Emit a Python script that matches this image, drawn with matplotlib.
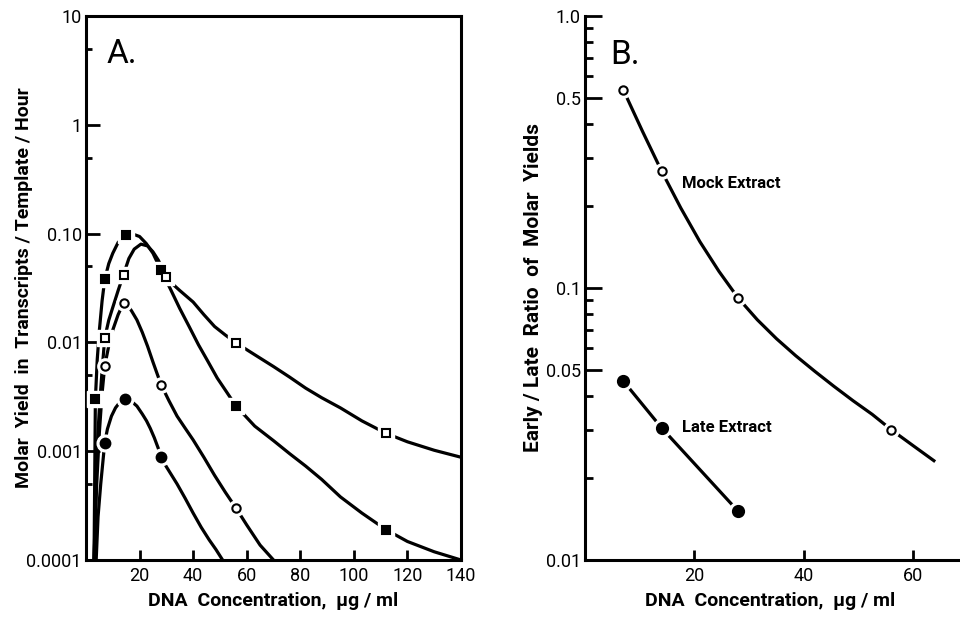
import numpy as np
import matplotlib.pyplot as plt

plt.rcParams['font.family'] = ['Roboto', 'DejaVu Sans']

# ---- Panel A: molar yield vs DNA concentration ----
# measured points
fsq_x = [3.5, 7, 15, 28, 56, 112]
fsq_y = [0.003, 0.038, 0.097, 0.046, 0.0026, 0.00019]
osq_x = [7, 14, 30, 56, 112]
osq_y = [0.011, 0.042, 0.040, 0.0099, 0.00146]
ocir_x = [7, 14, 28, 56]
ocir_y = [0.0061, 0.023, 0.0041, 0.0003]
fcir_x = [7, 14.5, 28]
fcir_y = [0.0012, 0.003, 0.00088]

# hand-drawn curves
fsq_cx = [3, 3.5, 4.2, 5, 6, 7, 8.5, 10, 12, 15, 17.5, 20, 22.5, 25, 28, 31.5, 35, 38.5, 42,
          45.5, 49, 52.5, 56, 63, 70, 76, 82, 88, 95, 103, 112, 120, 130, 140]
fsq_cy = [0.0001, 0.003, 0.007, 0.013, 0.024, 0.038, 0.053, 0.066, 0.083, 0.097, 0.099, 0.094,
          0.081, 0.066, 0.046, 0.031, 0.0205, 0.0140, 0.0095, 0.0067, 0.0047, 0.0035,
          0.0026, 0.0017, 0.00125, 0.00095, 0.00073, 0.00055, 0.00038, 0.00027, 0.00019,
          0.000148, 0.000119, 0.0001]
osq_cx = [3, 4, 5, 6, 7, 8.5, 10, 12, 14, 16, 18, 20.5, 23, 25, 27, 29, 30, 32, 35, 40, 44, 48,
          52, 56, 63, 70, 76, 82, 88, 95, 103, 112, 120, 130, 140]
osq_cy = [0.0001, 0.0009, 0.0025, 0.0055, 0.011, 0.016, 0.021, 0.030, 0.042, 0.059, 0.072,
          0.080, 0.077, 0.068, 0.057, 0.045, 0.040, 0.035, 0.030, 0.0235, 0.0180, 0.0140,
          0.0117, 0.0099, 0.0077, 0.0060, 0.0048, 0.0038, 0.0031, 0.0025, 0.0019, 0.00146,
          0.00122, 0.00102, 0.00088]
ocir_cx = [3, 4, 5, 6, 7, 8.5, 10, 12, 14, 15.5, 17, 19, 21, 23, 25, 26.5, 28, 31, 34, 37, 40,
           44, 48, 52, 56, 60, 65, 70]
ocir_cy = [0.0001, 0.0005, 0.0015, 0.0034, 0.0061, 0.0093, 0.013, 0.018, 0.023, 0.022, 0.0195,
           0.0161, 0.0124, 0.0092, 0.0066, 0.0052, 0.0041, 0.0029, 0.0021, 0.00163, 0.00127,
           0.00088, 0.00060, 0.00042, 0.0003, 0.00021, 0.000137, 0.0001]
fcir_cx = [3.8, 4.5, 5.5, 7, 8, 9.5, 11, 13, 14.5, 16, 17.5, 19, 21, 22.6, 24, 25.5, 27, 28,
           30, 34, 37, 40, 43, 46, 48.5, 51]
fcir_cy = [0.0001, 0.00025, 0.0005, 0.0012, 0.0016, 0.0021, 0.0025, 0.0029, 0.003, 0.00298,
           0.0028, 0.0026, 0.0022, 0.0019, 0.00162, 0.00133, 0.00106, 0.00088, 0.00072,
           0.0005, 0.00037, 0.00027, 0.0002, 0.000153, 0.000125, 0.0001]

a_yticks = [1e-4, 1e-3, 1e-2, 0.1, 1, 10]
a_ylabels = ['0.0001', '0.001', '0.01', '0.10', '1', '10']
a_yminor = [5e-4, 5e-3, 5e-2, 0.5, 5]
a_xticks = [20, 40, 60, 80, 100, 120, 140]

# ---- Panel B: early/late ratio ----
mock_x = [7, 14, 28, 56]
mock_y = [0.535, 0.269, 0.092, 0.030]
mock_cx = [7, 10.5, 14, 17.5, 21, 24.5, 28, 31.5, 35, 38.5, 42, 45.5, 49, 52.5, 56, 60, 64]
mock_cy = [0.535, 0.377, 0.269, 0.197, 0.148, 0.115, 0.0918, 0.0764, 0.0651, 0.0564, 0.0494,
           0.0435, 0.0385, 0.0343, 0.0301, 0.0263, 0.0230]
late_x = [7, 14, 28]
late_y = [0.0455, 0.0306, 0.0151]

b_yticks = [0.01, 0.05, 0.1, 0.5, 1.0]
b_ylabels = ['0.01', '0.05', '0.1', '0.5', '1.0']
b_yminor = [0.02, 0.03, 0.04, 0.06, 0.07, 0.08, 0.09, 0.2, 0.3, 0.4, 0.6, 0.7, 0.8, 0.9]
b_xticks = [20, 40, 60]


def series(ax, cx, cy, mx, my, marker, filled, ms=6):
    ax.plot(cx, cy, color='k', lw=2.3, zorder=2, solid_capstyle='butt')
    ax.plot(mx, my, ls='none', marker=marker, ms=ms + 5, mfc='white', mec='white', zorder=3)
    ax.plot(mx, my, ls='none', marker=marker, ms=ms, mfc='k' if filled else 'white',
            mec='k', mew=1.5, zorder=4)


fig = plt.figure(figsize=(9.6, 6.2), dpi=100)
H = 544 / 620
B0 = 60 / 620
axA = fig.add_axes([86 / 960, B0, 375 / 960, H])
axB = fig.add_axes([585 / 960, B0, 383 / 960, H])

series(axA, fsq_cx, fsq_cy, fsq_x, fsq_y, 's', True, 6)
series(axA, osq_cx, osq_cy, osq_x, osq_y, 's', False, 6)
series(axA, ocir_cx, ocir_cy, ocir_x, ocir_y, 'o', False, 6)
series(axA, fcir_cx, fcir_cy, fcir_x, fcir_y, 'o', True, 7)

series(axB, mock_cx, mock_cy, mock_x, mock_y, 'o', False, 6)
series(axB, late_x, late_y, late_x, late_y, 'o', True, 8)

for ax in (axA, axB):
    ax.set_yscale('log')
    for s in ax.spines.values():
        s.set_linewidth(2.2)
    ax.tick_params(which='both', direction='in', width=2, labelsize=13, pad=3)
    ax.tick_params(axis='x', which='major', length=7, pad=5)

lab = dict(fontsize=14, fontweight='bold')

axA.set_xlim(0, 140)
axA.set_ylim(1e-4, 10)
axA.set_yticks(a_yticks)
axA.set_yticklabels(a_ylabels)
axA.set_yticks(a_yminor, minor=True)
axA.set_yticklabels([], minor=True)
axA.set_xticks(a_xticks)
axA.tick_params(axis='y', which='major', length=10)
axA.tick_params(axis='y', which='minor', length=4)
axA.set_xlabel('DNA  Concentration,  μg / ml', **lab)
axA.xaxis.set_label_coords(0.5, -0.058)
axA.set_ylabel('Molar  Yield  in  Transcripts / Template / Hour', **lab)
axA.yaxis.set_label_coords(-0.142, 0.5)
axA.text(0.055, 0.93, 'A.', transform=axA.transAxes, fontsize=24, va='center')

axB.set_xlim(0, 70)
axB.set_ylim(0.01, 1.0)
axB.set_yticks(b_yticks)
axB.set_yticklabels(b_ylabels)
axB.set_yticks(b_yminor, minor=True)
axB.set_yticklabels([], minor=True)
axB.set_xticks(b_xticks)
axB.tick_params(axis='y', which='major', length=12)
axB.tick_params(axis='y', which='minor', length=6)
axB.spines['top'].set_visible(False)
axB.spines['right'].set_visible(False)
axB.set_xlabel('DNA  Concentration,  μg / ml', **lab)
axB.xaxis.set_label_coords(185 / 383, -0.058)
axB.set_ylabel('Early / Late  Ratio  of  Molar  Yields', fontsize=15, fontweight='bold')
axB.yaxis.set_label_coords(-0.11, 0.5)
axB.text(0.065, 0.928, 'B.', transform=axB.transAxes, fontsize=24, va='center')
axB.text(17.7, 0.243, 'Mock Extract', fontsize=12, fontweight='bold', va='center')
axB.text(17.7, 0.0308, 'Late Extract', fontsize=12, fontweight='bold', va='center')

fig.savefig('out.png', dpi=100)
